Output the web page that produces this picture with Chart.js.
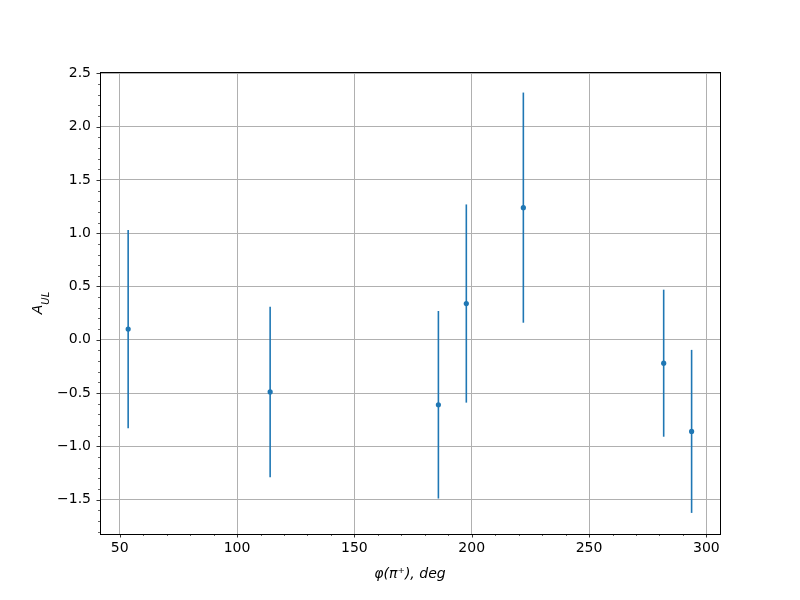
<!DOCTYPE html>
<html lang="en">
<head>
  <meta charset="UTF-8">
  <title>A_UL vs phi</title>
  <script src="https://cdn.jsdelivr.net/npm/chart.js@4.4.1/dist/chart.umd.min.js"></script>
  <style>
    * { margin: 0; padding: 0; box-sizing: border-box; }
    body { background: white; }
    #wrap { width: 800px; height: 600px; }
  </style>
</head>
<body>
  <div id="wrap"><canvas id="myChart" width="800" height="600"></canvas></div>

<script>
  // values
  var phiValues = [53.6, 114.1, 185.8, 197.7, 222.0, 281.8, 293.7];
  var aulValues = [0.10, -0.49, -0.61, 0.34, 1.24, -0.22, -0.86];
  var aulErrors = [0.93, 0.80, 0.88, 0.93, 1.08, 0.69, 0.765];

  var xTicks = [50, 100, 150, 200, 250, 300];
  var yTicks = [-1.5, -1.0, -0.5, 0.0, 0.5, 1.0, 1.5, 2.0, 2.5];

  var xMin = 41.6, xMax = 305.8;
  var yMin = -1.823, yMax = 2.513;

  var blue = '#1f77b4';
  var font = 'DejaVu Sans';

  var points = phiValues.map(function (x, i) { return { x: x, y: aulValues[i] }; });

  // error bars, frame, minor ticks and the y label
  var extras = {
    id: 'extras',
    beforeDatasetsDraw: function (chart) {
      var ctx = chart.ctx;
      var xs = chart.scales.x, ys = chart.scales.y;
      ctx.save();
      ctx.strokeStyle = blue;
      ctx.lineWidth = 1.6;
      for (let i = 0; i < phiValues.length; i++) {
        var px = xs.getPixelForValue(phiValues[i]);
        ctx.beginPath();
        ctx.moveTo(px, ys.getPixelForValue(aulValues[i] - aulErrors[i]));
        ctx.lineTo(px, ys.getPixelForValue(aulValues[i] + aulErrors[i]));
        ctx.stroke();
      }
      ctx.restore();
    },
    afterDraw: function (chart) {
      var ctx = chart.ctx;
      var a = chart.chartArea;
      var xs = chart.scales.x, ys = chart.scales.y;
      ctx.save();
      ctx.strokeStyle = 'black';
      ctx.lineWidth = 1;
      ctx.strokeRect(Math.round(a.left) + 0.5, Math.round(a.top) + 0.5,
        Math.round(a.right - a.left), Math.round(a.bottom - a.top));

      // major ticks
      ctx.lineWidth = 0.8;
      xTicks.forEach(function (v) {
        var p = Math.round(xs.getPixelForValue(v)) + 0.5;
        ctx.beginPath(); ctx.moveTo(p, a.bottom); ctx.lineTo(p, a.bottom + 3.5); ctx.stroke();
      });
      yTicks.forEach(function (v) {
        var p = Math.round(ys.getPixelForValue(v)) + 0.5;
        ctx.beginPath(); ctx.moveTo(a.left, p); ctx.lineTo(a.left - 3.5, p); ctx.stroke();
      });
      // minor ticks
      ctx.lineWidth = 0.6;
      for (let v = 50; v <= xMax; v += 10) {
        if (v % 50 === 0) continue;
        var p = Math.round(xs.getPixelForValue(v)) + 0.5;
        ctx.beginPath(); ctx.moveTo(p, a.bottom); ctx.lineTo(p, a.bottom + 2); ctx.stroke();
      }
      for (let k = -18; k <= 25; k++) {
        if (k % 5 === 0) continue;
        var p = Math.round(ys.getPixelForValue(k / 10)) + 0.5;
        ctx.beginPath(); ctx.moveTo(a.left, p); ctx.lineTo(a.left - 2, p); ctx.stroke();
      }

      // y axis label A_UL
      ctx.translate(42, (a.top + a.bottom) / 2);
      ctx.rotate(-Math.PI / 2);
      ctx.fillStyle = 'black';
      ctx.textBaseline = 'alphabetic';
      ctx.font = 'italic 14px "' + font + '"';
      var wA = ctx.measureText('A').width;
      ctx.font = 'italic 10px "' + font + '"';
      var wS = ctx.measureText('UL').width;
      var x0 = -(wA + wS) / 2;
      ctx.font = 'italic 14px "' + font + '"';
      ctx.fillText('A', x0, 0);
      ctx.font = 'italic 10px "' + font + '"';
      ctx.fillText('UL', x0 + wA, 7);
      ctx.restore();
    }
  };

  var myChart = new Chart('myChart', {
    type: 'scatter',
    data: {
      datasets: [{
        data: points,
        backgroundColor: blue,
        borderColor: blue,
        borderWidth: 0,
        pointRadius: 2.6,
        pointHoverRadius: 2.6
      }]
    },
    options: {
      responsive: false,
      animation: false,
      events: [],
      layout: { padding: { left: 0, right: 80, top: 72, bottom: 0 } },
      plugins: {
        legend: { display: false },
        tooltip: { enabled: false }
      },
      scales: {
        x: {
          type: 'linear',
          min: xMin,
          max: xMax,
          afterBuildTicks: function (scale) {
            scale.ticks = xTicks.map(function (v) { return { value: v }; });
          },
          afterFit: function (scale) { scale.height = 66; },
          grid: { color: '#b0b0b0', lineWidth: 1, drawTicks: false },
          border: { display: false },
          ticks: {
            padding: 6,
            color: 'black',
            font: { family: font, size: 14 },
            maxRotation: 0,
            callback: function (v) { return String(v); }
          },
          title: {
            display: true,
            text: 'φ(π⁺), deg',
            color: 'black',
            font: { family: font, size: 14, style: 'italic' },
            padding: { top: 0, bottom: 17 }
          }
        },
        y: {
          type: 'linear',
          min: yMin,
          max: yMax,
          afterBuildTicks: function (scale) {
            scale.ticks = yTicks.map(function (v) { return { value: v }; });
          },
          afterFit: function (scale) { scale.width = 100; },
          grid: { color: '#b0b0b0', lineWidth: 1, drawTicks: false },
          border: { display: false },
          ticks: {
            padding: 9,
            color: 'black',
            font: { family: font, size: 14 },
            callback: function (v) {
              return (v < 0 ? '\u2212' : '') + Math.abs(v).toFixed(1);
            }
          }
        }
      }
    },
    plugins: [extras]
  });
</script>
</body>
</html>
